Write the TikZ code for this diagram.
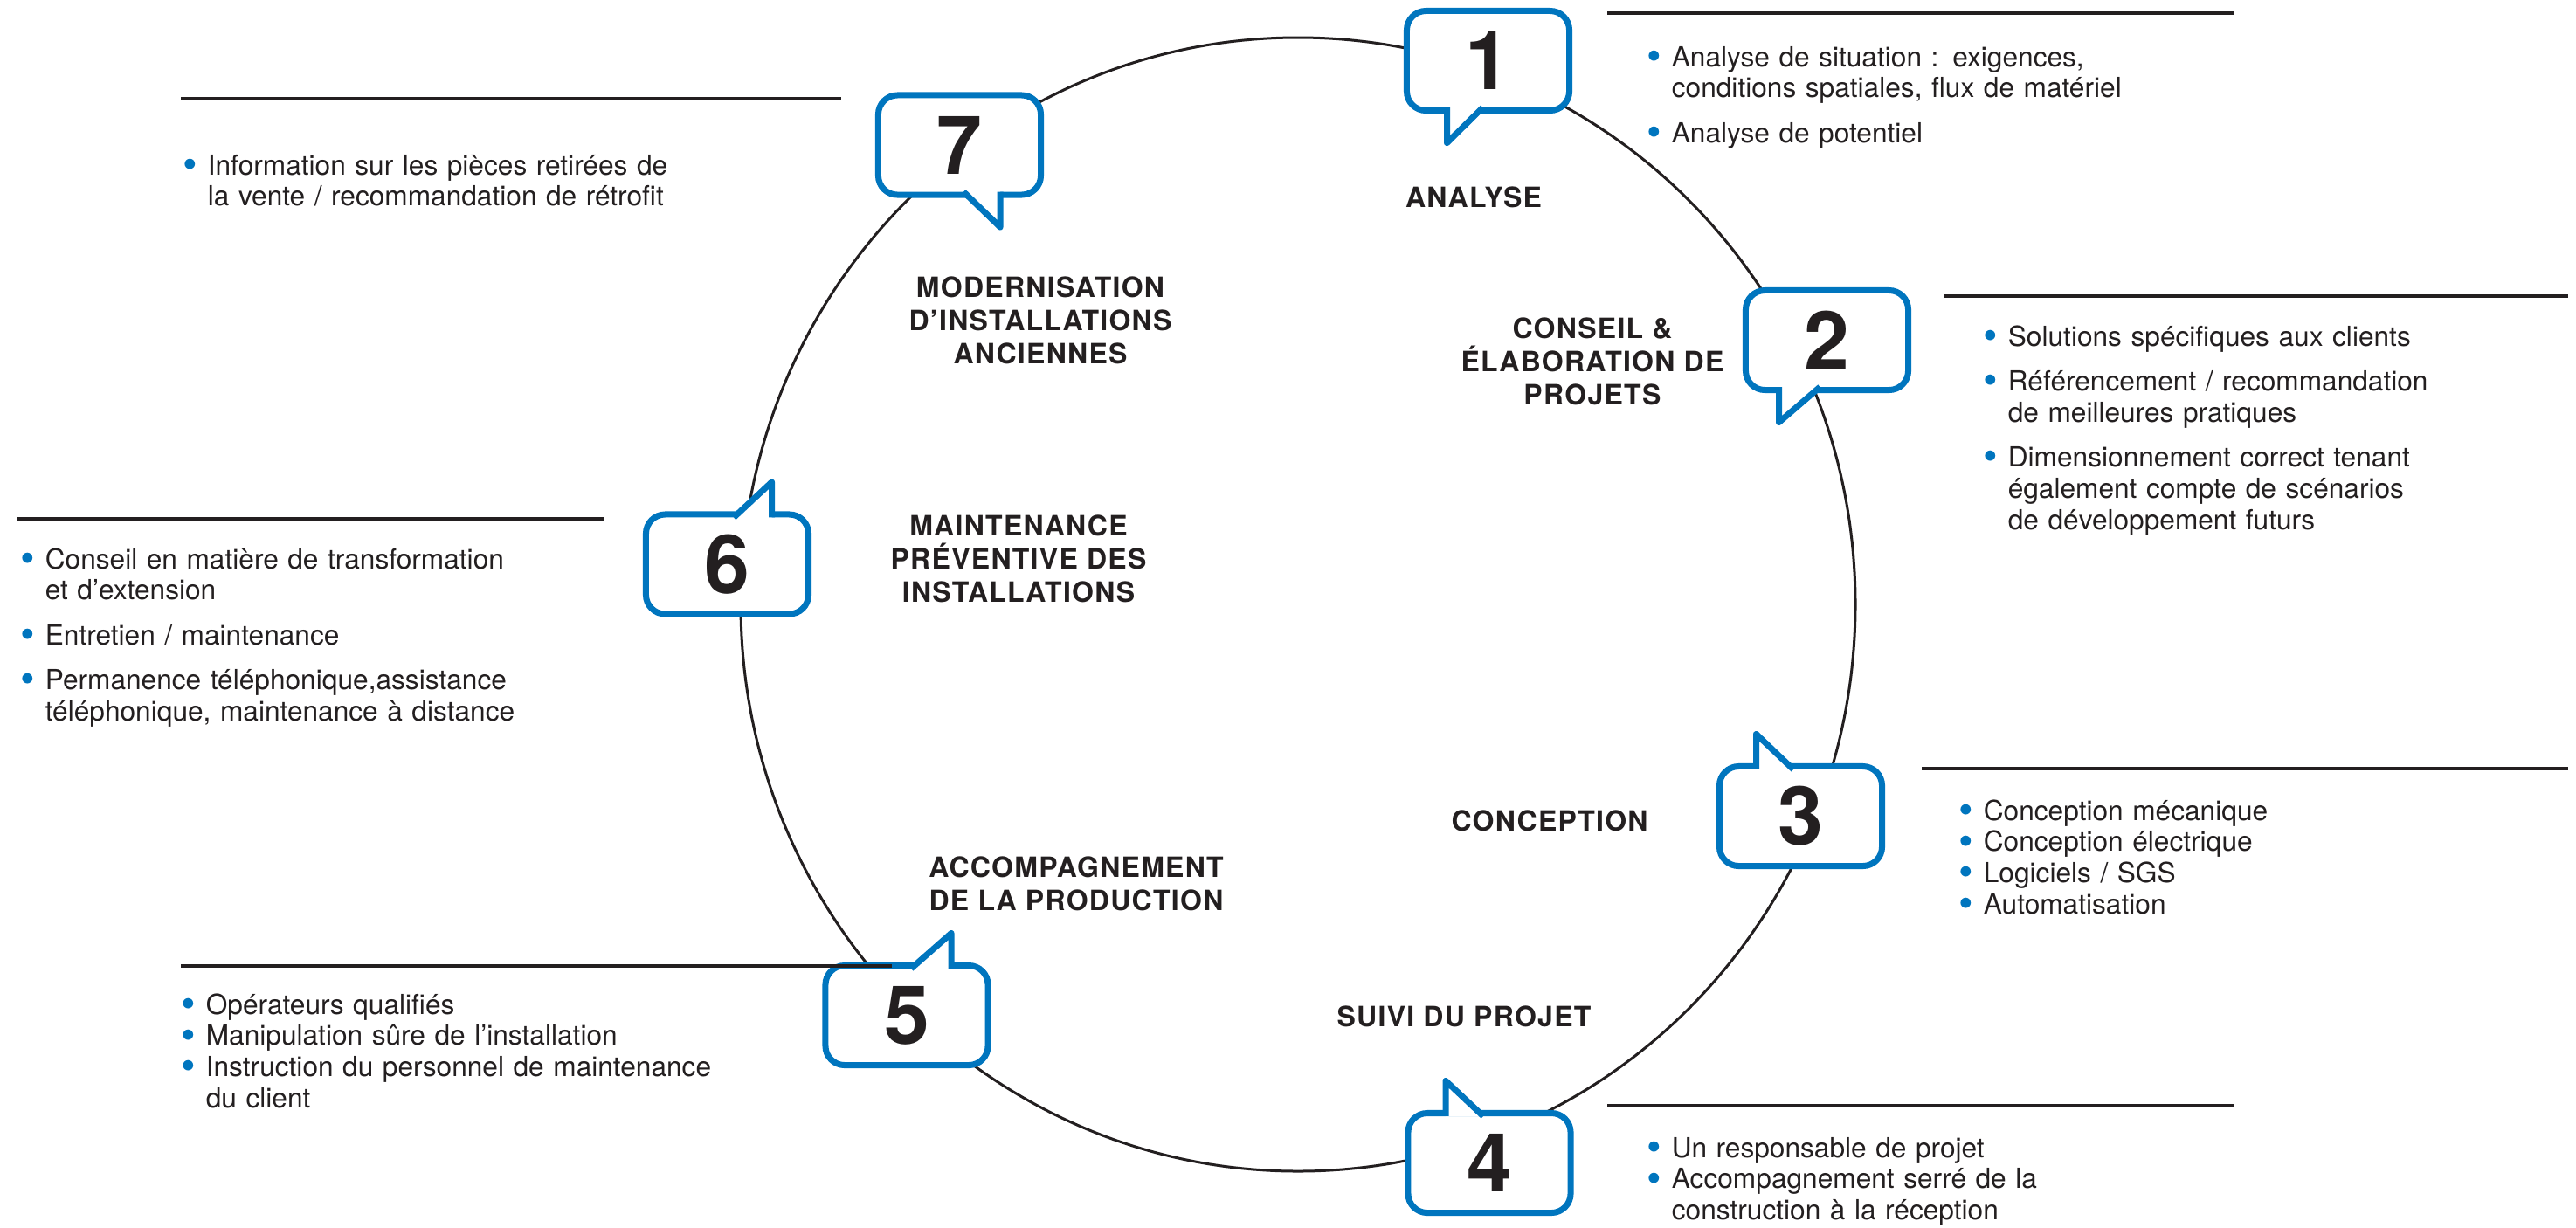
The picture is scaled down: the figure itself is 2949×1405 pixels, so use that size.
\documentclass[tikz,border=0pt]{standalone}
\usepackage{fontspec}
\setmainfont{TeX Gyre Heros}
\newfontfamily\headfont{TeX Gyre Heros}[LetterSpace=4]
\usepackage{tikz}
\usetikzlibrary{calc}
\definecolor{cblue}{RGB}{0,117,190}
\definecolor{cink}{RGB}{35,31,32}
\newlength\bgap
\newcommand\bitem[1]{\hangindent=8pt\hangafter=1\makebox[8pt][l]{\textcolor{cblue}{\raisebox{-1.2pt}{\fontsize{13.5}{13.5}\selectfont\textbullet}}}#1\par}
\newcommand\bskip{\par\vspace{\bgap}\noindent}
\newcommand\tailbelow[3]{%
  \fill[white] ($(#1.south)+(#2,-4)$) -- ($(#1.south)+(#2,37)$) -- ($(#1.south)+(#3,-4)$) -- cycle;
  \draw[tailline] ($(#1.south)+(#2,-3.5)$) -- ($(#1.south)+(#2,37)$) -- ($(#1.south)+(#3,-3.5)$);}
\newcommand\tailabove[3]{%
  \fill[white] ($(#1.north)+(#2,4)$) -- ($(#1.north)+(#2,-37)$) -- ($(#1.north)+(#3,4)$) -- cycle;
  \draw[tailline] ($(#1.north)+(#2,3.5)$) -- ($(#1.north)+(#2,-37)$) -- ($(#1.north)+(#3,3.5)$);}
\tikzset{
  bubble/.style={draw=cblue, fill=white, line width=0.07cm, rounded corners=0.22cm,
    minimum width=1.86cm, minimum height=1.14cm, inner sep=0, outer sep=0,
    text=cink, font=\bfseries\fontsize{26.5}{26.5}\selectfont},
  tailline/.style={draw=cblue, line width=0.07cm, line join=round},
  ring/.style={draw=cink, line width=0.03cm},
  sepline/.style={draw=cink, line width=0.035cm},
  phase/.style={align=center, inner sep=0, text=cink,
    font=\headfont\bfseries\fontsize{9.1}{10.8}\selectfont},
  info/.style={anchor=base west, inner sep=0, text width=9cm, text=cink,
    font=\fontsize{9}{10.2}\selectfont},
  spaced/.style={execute at begin node={\setlength\bgap{4.4pt}}}
}
\begin{document}
\begin{tikzpicture}[x=0.01cm, y=-0.01cm]
\useasboundingbox (0,0) rectangle (2949,1405);
\draw[ring] (1486,692) ellipse [x radius=638, y radius=649];

\node[bubble] (b1) at (1703.5,69.5) {1};
\tailbelow{b1}{-47}{-6}
\node[bubble] (b2) at (2091.5,389.5) {2};
\tailbelow{b2}{-55}{-8}
\node[bubble] (b3) at (2061.5,934.5) {3};
\tailabove{b3}{-51}{-8.5}
\node[bubble] (b4) at (1705,1331.5) {4};
\tailabove{b4}{-50}{-7}
\node[bubble] (b5) at (1038,1162.5) {5};
\tailabove{b5}{51}{5}
\node[bubble] (b6) at (832.5,646) {6};
\tailabove{b6}{51}{7.5}
\node[bubble] (b7) at (1098.5,166) {7};
\tailbelow{b7}{46.5}{4.5}

\node[phase] (analyse) at (1687,226) {ANALYSE};
\node[phase] (conseil) at (1823,414) {CONSEIL \&\\ÉLABORATION DE\\PROJETS};
\node[phase] (conception) at (1774,940) {CONCEPTION};
\node[phase] (suivi) at (1676,1164) {SUIVI DU PROJET};
\node[phase] (accomp) at (1232,1012) {ACCOMPAGNEMENT\\DE LA PRODUCTION};
\node[phase] (maint) at (1166,640) {MAINTENANCE\\PRÉVENTIVE DES\\INSTALLATIONS};
\node[phase] (modern) at (1191,367) {MODERNISATION\\D’INSTALLATIONS\\ANCIENNES};

\draw[sepline] (1840,15) -- (2558,15);
\node[info, spaced] (t1) at (1885,76) {\bitem{Analyse de situation : exigences,\newline conditions spatiales, flux de matériel}\bskip\bitem{Analyse de potentiel}};
\draw[sepline] (2225,339) -- (2940,339);
\node[info, spaced] (t2) at (2270,396) {\bitem{Solutions spécifiques aux clients}\bskip\bitem{Référencement / recommandation\newline de meilleures pratiques}\bskip\bitem{Dimensionnement correct tenant\newline également compte de scénarios\newline de développement futurs}};
\draw[sepline] (2200,880) -- (2940,880);
\node[info] (t3) at (2242,939) {\bitem{Conception mécanique}\bskip\bitem{Conception électrique}\bskip\bitem{Logiciels / SGS}\bskip\bitem{Automatisation}};
\draw[sepline] (1840,1266) -- (2558,1266);
\node[info] (t4) at (1885,1325) {\bitem{Un responsable de projet}\bskip\bitem{Accompagnement serré de la\newline construction à la réception}};
\draw[sepline] (207,1106) -- (1021,1106);
\node[info] (t5) at (207,1161) {\bitem{Opérateurs qualifiés}\bskip\bitem{Manipulation sûre de l’installation}\bskip\bitem{Instruction du personnel de maintenance\newline du client}};
\draw[sepline] (19,594) -- (692,594);
\node[info, spaced] (t6) at (23,651) {\bitem{Conseil en matière de transformation\newline et d’extension}\bskip\bitem{Entretien / maintenance}\bskip\bitem{Permanence téléphonique,assistance\newline téléphonique, maintenance à distance}};
\draw[sepline] (207,113) -- (963,113);
\node[info] (t7) at (209,200) {\bitem{Information sur les pièces retirées de\newline la vente / recommandation de rétrofit}};
\end{tikzpicture}
\end{document}
